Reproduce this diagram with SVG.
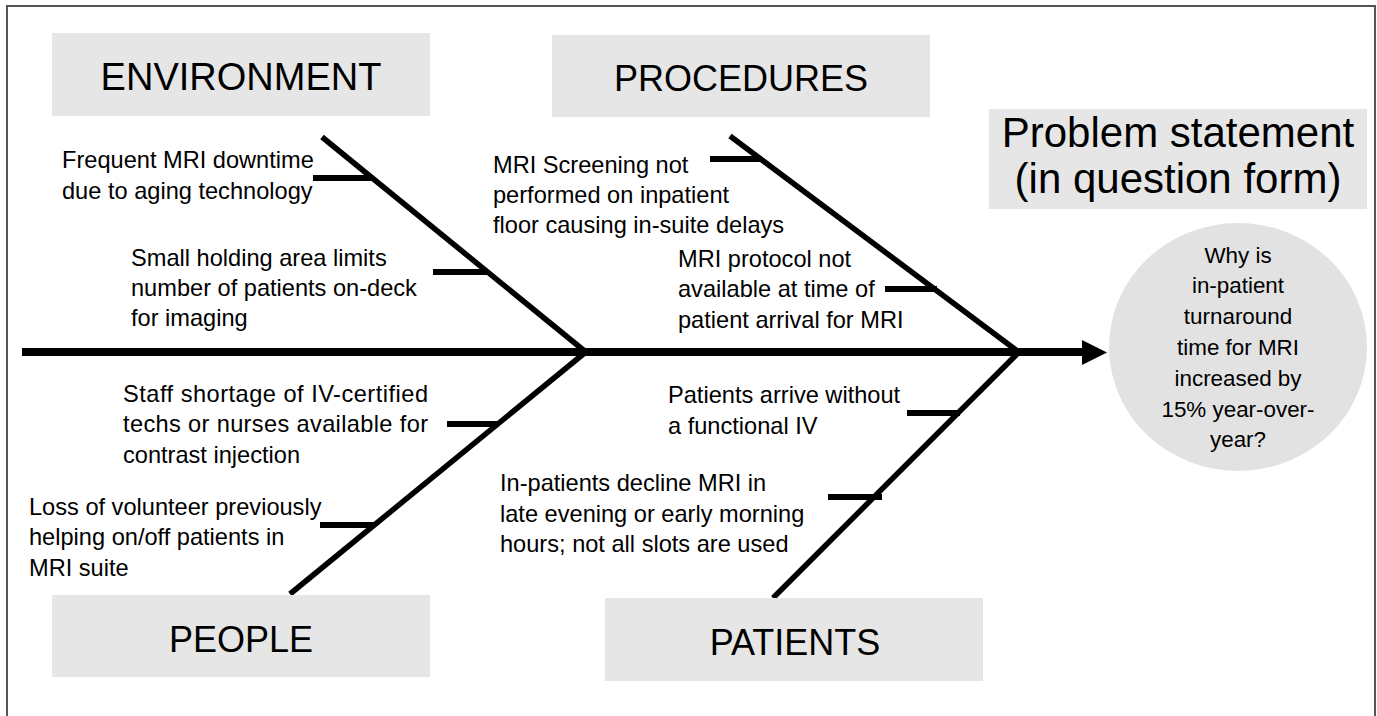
<svg xmlns="http://www.w3.org/2000/svg" width="1377" height="716" viewBox="0 0 1377 716">
<style>
.hdr{fill:#e6e6e6}
.ht{font-family:"Liberation Sans",Arial,sans-serif;font-size:36px;fill:#000;text-anchor:middle}
.t{font-family:"Liberation Sans",Arial,sans-serif;font-size:23.6px;fill:#000}
.ct{font-family:"Liberation Sans",Arial,sans-serif;font-size:22.4px;fill:#000;text-anchor:middle}
.bone{stroke:#000;stroke-width:5.5;fill:none}
.rib{stroke:#000;stroke-width:6;fill:none}
</style>
<rect width="1377" height="716" fill="#fff"/>
<path d="M7,716 V6 H1375 V716" fill="none" stroke="#555" stroke-width="2"/>

<g id="connectors">
  <line x1="22" y1="352" x2="1084" y2="352" stroke="#000" stroke-width="8"/>
  <polygon points="1082,340 1107,352.5 1082,365" fill="#000"/>
  <line class="bone" x1="322" y1="137" x2="587" y2="353"/>
  <line class="bone" x1="290" y1="594" x2="587" y2="351"/>
  <line class="bone" x1="730" y1="136" x2="1020" y2="353"/>
  <line class="bone" x1="773" y1="598" x2="1020" y2="351"/>
  <line class="rib" x1="313" y1="178" x2="371" y2="178"/>
  <line class="rib" x1="433" y1="272" x2="487" y2="272"/>
  <line class="rib" x1="447" y1="424" x2="499" y2="424"/>
  <line class="rib" x1="320" y1="525" x2="374" y2="525"/>
  <line class="rib" x1="710" y1="159" x2="762" y2="159"/>
  <line class="rib" x1="885" y1="289" x2="937" y2="289"/>
  <line class="rib" x1="907" y1="413" x2="960" y2="413"/>
  <line class="rib" x1="828" y1="497" x2="882" y2="497"/>
</g>

<g id="environment">
  <rect class="hdr" x="52" y="33" width="378" height="83"/>
  <text class="ht" style="font-size:38px" x="241" y="90">ENVIRONMENT</text>
</g>
<g id="env-cause-1">
  <text class="t" x="62" y="168">Frequent MRI downtime</text>
  <text class="t" x="62" y="199">due to aging technology</text>
</g>
<g id="env-cause-2">
  <text class="t" x="131" y="266">Small holding area limits</text>
  <text class="t" x="131" y="296">number of patients on-deck</text>
  <text class="t" x="131" y="326">for imaging</text>
</g>

<g id="procedures">
  <rect class="hdr" x="552" y="35" width="378" height="82"/>
  <text class="ht" x="741" y="91">PROCEDURES</text>
</g>
<g id="proc-cause-1">
  <text class="t" x="493" y="173">MRI Screening not</text>
  <text class="t" x="493" y="203">performed on inpatient</text>
  <text class="t" x="493" y="233">floor causing in-suite delays</text>
</g>
<g id="proc-cause-2">
  <text class="t" x="678" y="267">MRI protocol not</text>
  <text class="t" x="678" y="297">available at time of</text>
  <text class="t" x="678" y="328">patient arrival for MRI</text>
</g>

<g id="people">
  <rect class="hdr" x="52" y="595" width="378" height="82"/>
  <text class="ht" x="241" y="652">PEOPLE</text>
</g>
<g id="people-cause-1">
  <text class="t" x="123" y="402" textLength="305" lengthAdjust="spacing">Staff shortage of IV-certified</text>
  <text class="t" x="123" y="432" textLength="305" lengthAdjust="spacing">techs or nurses available for</text>
  <text class="t" x="123" y="463">contrast injection</text>
</g>
<g id="people-cause-2">
  <text class="t" x="29" y="515">Loss of volunteer previously</text>
  <text class="t" x="29" y="545">helping on/off patients in</text>
  <text class="t" x="29" y="576">MRI suite</text>
</g>

<g id="patients">
  <rect class="hdr" x="605" y="598" width="378" height="83"/>
  <text class="ht" x="795" y="655">PATIENTS</text>
</g>
<g id="pat-cause-1">
  <text class="t" x="668" y="403">Patients arrive without</text>
  <text class="t" x="668" y="434">a functional IV</text>
</g>
<g id="pat-cause-2">
  <text class="t" x="500" y="491">In-patients decline MRI in</text>
  <text class="t" x="500" y="522">late evening or early morning</text>
  <text class="t" x="500" y="552">hours; not all slots are used</text>
</g>

<g id="problem-statement">
  <rect class="hdr" x="989" y="109" width="378" height="100"/>
  <text class="ht" style="font-size:42px" x="1178" y="147">Problem statement</text>
  <text class="ht" style="font-size:42px" x="1178" y="193">(in question form)</text>
</g>

<g id="problem">
  <ellipse cx="1238" cy="347" rx="129" ry="124" fill="#e2e2e2"/>
  <text class="ct" x="1238" y="263">Why is</text>
  <text class="ct" x="1238" y="293">in-patient</text>
  <text class="ct" x="1238" y="324">turnaround</text>
  <text class="ct" x="1238" y="355">time for MRI</text>
  <text class="ct" x="1238" y="386">increased by</text>
  <text class="ct" x="1238" y="417">15% year-over-</text>
  <text class="ct" x="1238" y="447">year?</text>
</g>
</svg>
